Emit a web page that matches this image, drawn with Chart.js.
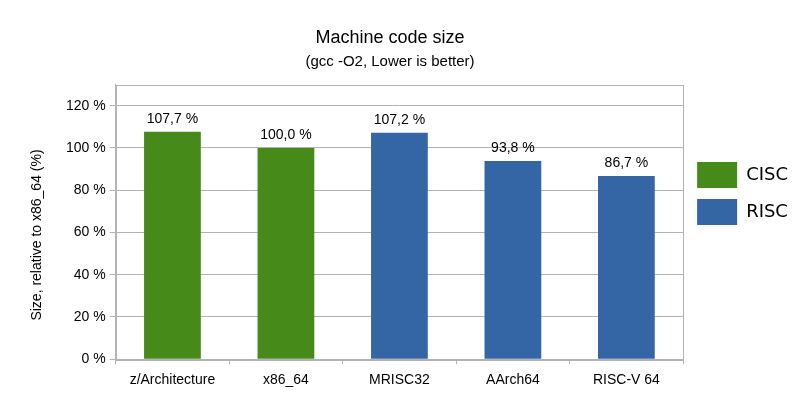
<!DOCTYPE html>
<html>
<head>
<meta charset="utf-8">
<title>Machine code size</title>
<script src="https://cdn.jsdelivr.net/npm/chart.js@4"></script>
<style>
    body { margin: 0; background: #fff; }
    #wrap { width: 800px; height: 397px; }
</style>
</head>
<body>
<div id="wrap"><canvas id="codeSizeChart"></canvas></div>
<script>
const categories = ["z/Architecture", "x86_64", "MRISC32", "AArch64", "RISC-V 64"];
const ciscValues = [107.7, 100.0, null, null, null];
const riscValues = [null, null, 107.2, 93.8, 86.7];
const yTicks = [0, 20, 40, 60, 80, 100, 120];
const yTitle = "Size, relative to x86_64 (%)";

const gridColor = "#b3b3b3";
const fmt = v => v.toFixed(1).replace(".", ",") + " %";

// nudge titles and legend to where the original put them
const nudge = {
    id: "nudge",
    afterLayout(chart) {
        chart.boxes.forEach(b => {
            if (b.options && b.options.position === "top" && b.options.text !== undefined) {
                const shift = 390 - (b.left + b.right) / 2;
                b.left += shift;
                b.right += shift;
            }
        });
        if (chart.legend) {
            chart.legend.left += 3;
            chart.legend.right += 3;
            chart.legend.top -= 5;
            chart.legend.bottom -= 5;
        }
    }
};

// frame around the plot area, plus the rotated y axis title
const framePlugin = {
    id: "frame",
    beforeDatasetsDraw(chart) {
        const { ctx, chartArea } = chart;
        ctx.save();
        ctx.strokeStyle = gridColor;
        ctx.lineWidth = 1;
        ctx.strokeRect(Math.round(chartArea.left) + 0.5, Math.round(chartArea.top) + 0.5,
            Math.round(chartArea.width), Math.round(chartArea.height));
        ctx.restore();

        ctx.save();
        ctx.translate(37, 235);
        ctx.rotate(-Math.PI / 2);
        ctx.font = "14px 'Liberation Sans', Arial, sans-serif";
        ctx.fillStyle = "#000";
        ctx.textAlign = "center";
        ctx.textBaseline = "middle";
        ctx.fillText(yTitle, 0, 0);
        ctx.restore();
    }
};

// value labels above the bars
const valueLabels = {
    id: "valueLabels",
    afterDatasetsDraw(chart) {
        const { ctx } = chart;
        ctx.save();
        ctx.font = "14px 'Liberation Sans', Arial, sans-serif";
        ctx.fillStyle = "#000";
        ctx.textAlign = "center";
        ctx.textBaseline = "middle";
        chart.data.datasets.forEach((ds, i) => {
            chart.getDatasetMeta(i).data.forEach((bar, j) => {
                const v = ds.data[j];
                if (v === null) return;
                ctx.fillText(fmt(v), bar.x, bar.y - 13);
            });
        });
        ctx.restore();
    }
};

const ctx = document.getElementById("codeSizeChart").getContext("2d");
new Chart(ctx, {
    type: "bar",
    data: {
        labels: categories,
        datasets: [
            { label: "CISC", data: ciscValues, backgroundColor: "#468a1a", borderWidth: 0 },
            { label: "RISC", data: riscValues, backgroundColor: "#3465a4", borderWidth: 0 }
        ]
    },
    options: {
        responsive: true,
        maintainAspectRatio: false,
        animation: false,
        skipNull: true,
        categoryPercentage: 0.5,
        barPercentage: 1.0,
        layout: { padding: { left: 62, right: 5, top: 0, bottom: 0 } },
        plugins: {
            title: {
                display: true,
                text: "Machine code size",
                color: "#000",
                font: { family: "'Liberation Sans', Arial, sans-serif", size: 18, weight: "normal" },
                padding: { top: 27, bottom: 4 }
            },
            subtitle: {
                display: true,
                text: "(gcc -O2, Lower is better)",
                color: "#000",
                font: { family: "'Liberation Sans', Arial, sans-serif", size: 15, weight: "normal" },
                padding: { top: 0, bottom: 14 }
            },
            legend: {
                position: "right",
                labels: {
                    boxWidth: 40,
                    boxHeight: 26,
                    padding: 11,
                    color: "#000",
                    font: { family: "'DejaVu Sans', sans-serif", size: 18 }
                }
            },
            tooltip: { enabled: false }
        },
        scales: {
            x: {
                grid: {
                    offset: true,
                    drawOnChartArea: false,
                    drawTicks: true,
                    tickLength: 5,
                    color: gridColor
                },
                border: { display: true, color: gridColor },
                ticks: {
                    color: "#000",
                    padding: 8,
                    maxRotation: 0,
                    font: { family: "'Liberation Sans', Arial, sans-serif", size: 14 }
                }
            },
            y: {
                min: 0,
                max: 130,
                afterBuildTicks: scale => { scale.ticks = yTicks.map(v => ({ value: v })); },
                grid: { color: gridColor, tickLength: 6 },
                border: { display: true, color: gridColor },
                ticks: {
                    color: "#000",
                    padding: 4,
                    font: { family: "'Liberation Sans', Arial, sans-serif", size: 14 },
                    callback: v => v + " %"
                }
            }
        }
    },
    plugins: [nudge, framePlugin, valueLabels]
});
</script>
</body>
</html>
